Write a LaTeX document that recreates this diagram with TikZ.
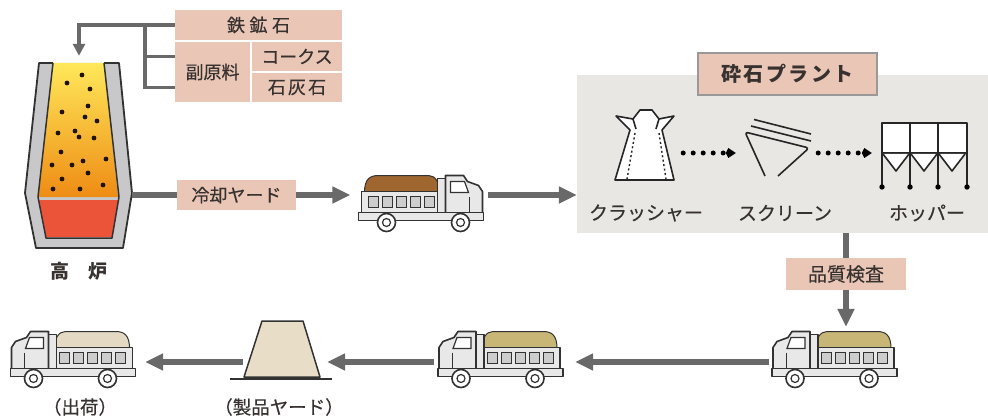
\documentclass[tikz,border=0pt]{standalone}
\usepackage{fontspec}
\newfontfamily\jpbase{Noto Sans CJK JP}
\newfontfamily\jp{Noto Sans CJK JP}[FakeBold=0.35]
\usetikzlibrary{arrows.meta,calc}

\definecolor{tagpink}{RGB}{233,198,182}
\definecolor{ink}{RGB}{55,50,48}
\definecolor{flowgray}{RGB}{105,105,105}
\definecolor{plantbg}{RGB}{233,231,228}
\definecolor{shell}{RGB}{200,200,202}
\definecolor{outline}{RGB}{50,50,50}
\definecolor{moltentop}{RGB}{255,232,90}
\definecolor{moltenbot}{RGB}{238,140,20}
\definecolor{slag}{RGB}{236,84,58}
\definecolor{loadbrown}{RGB}{160,102,48}
\definecolor{loadkhaki}{RGB}{200,182,118}
\definecolor{loadbeige}{RGB}{228,218,196}
\definecolor{pilefill}{RGB}{232,222,200}
\definecolor{truckbody}{RGB}{232,232,232}
\definecolor{truckpanel}{RGB}{205,205,205}

\tikzset{
  tag/.style={fill=tagpink, text=ink, inner sep=0pt,
    font=\jp\fontsize{18}{18}\selectfont},
  flow/.style={draw=flowgray, line width=5.5pt,
    -{Triangle[length=18pt,width=16pt]}},
  flowline/.style={draw=flowgray, line width=5.5pt},
  feed/.style={draw=flowgray, line width=3.5pt},
  feedarrow/.style={feed, -{Triangle[length=12pt,width=12pt]}},
  dotflow/.style={draw=black, line width=5pt, line cap=round,
    dash pattern=on 0pt off 10pt, -{Kite[length=10pt,width=10pt]}},
  icon/.style={draw=black!85, line width=1.6pt, line join=round},
  anchorbox/.style={inner sep=0pt, minimum width=#1},
  caption/.style={text=ink, font=\jp\fontsize{19}{19}\selectfont},
  tbody/.style={draw=outline, fill=truckbody, line width=1.6pt, line join=round},
  truck/.pic={
    % load heaped on the bed
    \filldraw[fill=\tikzpictruckload, draw=outline, line width=1pt]
      (-56,-10) .. controls (-56,-23) and (-51,-27) .. (-42,-27)
      -- (8,-27) .. controls (15,-27) and (19,-20) .. (19,-10) -- cycle;
    % bed with side panels
    \draw[tbody] (-59,-11) rectangle (17,10);
    \foreach \px in {-52,-38,-24,-10,4}
      \draw[draw=outline, fill=truckpanel, line width=1pt] (\px,-6) rectangle (\px+10,5);
    % headboard post
    \draw[tbody] (17,-24) rectangle (25,10);
    % cab
    \draw[tbody] (25,-27) -- (43,-27) -- (47,-21) -- (58,-17) -- (62,-11)
      -- (62,12) -- (25,12) -- cycle;
    \draw[draw=outline, fill=white, line width=1.2pt]
      (30,-21) -- (44,-21) -- (48,-10) -- (30,-10) -- cycle;
    \draw[draw=outline, line width=1pt] (49,-6) -- (49,10);
    % chassis
    \draw[tbody] (-62,10) rectangle (63,18);
    % wheels
    \foreach \wx in {-34,40}{
      \draw[draw=outline, fill=white, line width=1.6pt] (\wx,20) circle (9);
      \draw[draw=outline, line width=1.2pt] (\wx,20) circle (4);
    }
  },
}
\newcommand\tikzpictruckload{loadbrown}

\begin{document}
\begin{tikzpicture}[x=1pt,y=-1pt]
\useasboundingbox[fill=white] (0,0) rectangle (988,417);

% ---------- blast furnace ----------
\node[anchorbox=106, minimum height=185] (furnace) at (79,155.5) {};
\fill[shell] (39,63) -- (119,63) -- (132,193) -- (123,248) -- (36,248) -- (25,193) -- cycle;
\shade[top color=moltentop, bottom color=moltenbot]
  (53,63) -- (104,63) -- (118,197) -- (38,197) -- cycle;
\fill[slag] (38.5,200) -- (118.5,200) -- (112,237) -- (46,237) -- cycle;
\draw[outline, line width=1.8pt, line join=round]
  (53,63) -- (39,63) -- (25,193) -- (36,248) -- (123,248) -- (132,193) -- (119,63) -- (104,63);
\draw[outline, line width=1.5pt, line join=round]
  (53,63) -- (38,197) -- (46,238) -- (112,238) -- (119,197) -- (104,63);
\foreach \dx/\dy in {82/75,67/83,90/89,62/112,88/106,85/117,97/121,58/133,75/131,
  79/137,94/138,61/152,52/165,72/165,83/161,106/159,88/173,62/179,53/189,80/189,103/185}
  \fill[black!85!brown] (\dx,\dy) circle (2.4);
\node[font=\jpbase\bfseries\fontsize{19}{19}\selectfont, text=ink] (furnacelbl) at (79,271) {高\hspace{1em}炉};

% ---------- raw materials ----------
\node[tag, minimum width=167, minimum height=30] (ore) at (258.5,25) {鉄\hspace{0.25em}鉱\hspace{0.25em}石};
\node[tag, minimum width=75, minimum height=60] (sub) at (212.5,72) {副原料};
\node[tag, minimum width=90, minimum height=29] (coke) at (297,56.5) {コークス};
\node[tag, minimum width=90, minimum height=29] (lime) at (297,87.5) {石\hspace{0.12em}灰\hspace{0.12em}石};
\coordinate (branch) at (145,25);
\draw[feed] (sub.west |- coke.west) -| (branch);
\draw[feed] (sub.west |- lime.west) -| (branch);
\draw[feedarrow, shorten >=7pt] (ore.west) -| (furnace.north);

% ---------- cooling yard and first haul ----------
\node[tag, minimum width=119, minimum height=30] (cool) at (236.5,195) {冷却ヤード};
\coordinate (tap) at (132,195);
\draw[flowline] (tap) -- (cool.west);
\node[anchorbox=126, minimum height=56] (truckA) at (420.5,202.5) {};
\pic at (truckA) {truck};
\draw[flow, shorten >=7pt] (cool.east) -- ([yshift=7.5pt]truckA.west);

% ---------- crushing plant ----------
\node[fill=plantbg, inner sep=0pt, minimum width=411, minimum height=158] (plant) at (782.5,154) {};
\node[tag, draw=black!40, line width=1.2pt, minimum width=179, minimum height=42,
  font=\jpbase\bfseries\fontsize{20}{20}\selectfont] (plantttl) at (787.5,74) {砕\hspace{0.12em}石\hspace{0.12em}プ\hspace{0.12em}ラ\hspace{0.12em}ン\hspace{0.12em}ト};
\draw[flow, shorten <=4pt] ([yshift=7.5pt]truckA.east) -- ([yshift=7.5pt]truckA.east -| plant.west);

% crusher
\node[anchorbox=57, minimum height=70] (crusher) at (644.5,153) {};
\draw[icon, fill=white] (616,116) -- (633,119) -- (640,110) -- (652,110) -- (659,119)
  -- (674,116) -- (662,130) -- (674,180) -- (615,180) -- (630,130) -- cycle;
\draw[icon] (633,119) -- (636,129);
\draw[icon] (659,119) -- (656,129);
\draw[black!85, line width=1.4pt, dash pattern=on 2pt off 2.5pt] (635,133) -- (627,179);
\draw[black!85, line width=1.4pt, dash pattern=on 2pt off 2.5pt] (659,133) -- (666,179);
\node[caption] (crusherlbl) at (646,213) {クラッシャー};

% screen
\node[anchorbox=65, minimum height=56] (screen) at (777.5,153) {};
\draw[icon, rounded corners=3pt] (765,176) -- (745,132) -- (809,148) -- (778,176);
\draw[icon] (751,126) -- (811,141);
\draw[icon] (754,119.5) -- (811,134);
\node[caption] (screenlbl) at (785,213) {スクリーン};

% hopper
\node[anchorbox=85, minimum height=65] (hopper) at (924.5,153) {};
\draw[icon, fill=white] (882,123) rectangle (967,153);
\foreach \hx in {882,910,938}
  \draw[icon, fill=white] (\hx+1,154) -- (\hx+14,171) -- (\hx+27,154);
\foreach \hx in {882,910,938,967}{
  \draw[icon] (\hx,123) -- (\hx,187);
  \fill[black] (\hx,187) circle (2.7);
}
\node[caption] (hopperlbl) at (927,213) {ホッパー};

\draw[dotflow, shorten <=10pt, shorten >=9pt] (crusher.east) -- (screen.west);
\draw[dotflow, shorten <=8pt, shorten >=10pt] (screen.east) -- (hopper.west);

% ---------- inspection and delivery ----------
\node[tag, font=\jp\fontsize{19}{19}\selectfont, minimum width=120, minimum height=32] (check) at (846,274) {品質検査};
\draw[flowline] (plant.south -| check.north) -- (check.north);
\node[anchorbox=126, minimum height=57] (truckD) at (835,358.5) {};
\renewcommand\tikzpictruckload{loadkhaki}
\pic[xscale=-1] at (truckD) {truck};
\draw[flow, shorten >=3pt] (check.south) -- (check.south |- truckD.north);

\node[anchorbox=128, minimum height=57] (truckC) at (501,358.5) {};
\pic[xscale=-1] at (truckC) {truck};
\draw[flow, shorten <=3pt, shorten >=10pt] ([yshift=-3.5pt]truckD.west) -- ([yshift=-3.5pt]truckC.east);

% product yard
\node[anchorbox=102, minimum height=42] (pile) at (281,358.5) {};
\filldraw[fill=pilefill, draw=outline, line width=1.5pt, line join=round]
  (262,321) -- (303,321) -- (320,377) -- (244,377) -- cycle;
\draw[outline, line width=2.2pt] (230,379) -- (332,379);
\draw[flow, shorten <=3pt, shorten >=-5pt] ([yshift=-3.5pt]truckC.west) -- ([yshift=-3.5pt]pile.east);
\node[caption, font=\jp\fontsize{18.5}{18.5}\selectfont] (pilelbl) at (279,407) {（製品ヤード）};

\node[anchorbox=127, minimum height=57] (truckE) at (73.5,358.5) {};
\renewcommand\tikzpictruckload{loadbeige}
\pic[xscale=-1] at (truckE) {truck};
\draw[flow, shorten <=-13pt, shorten >=8pt] ([yshift=-3.5pt]pile.west) -- ([yshift=-3.5pt]truckE.east);
\node[caption, font=\jp\fontsize{18.5}{18.5}\selectfont] (shiplbl) at (80,407) {（出荷）};
\end{tikzpicture}
\end{document}
